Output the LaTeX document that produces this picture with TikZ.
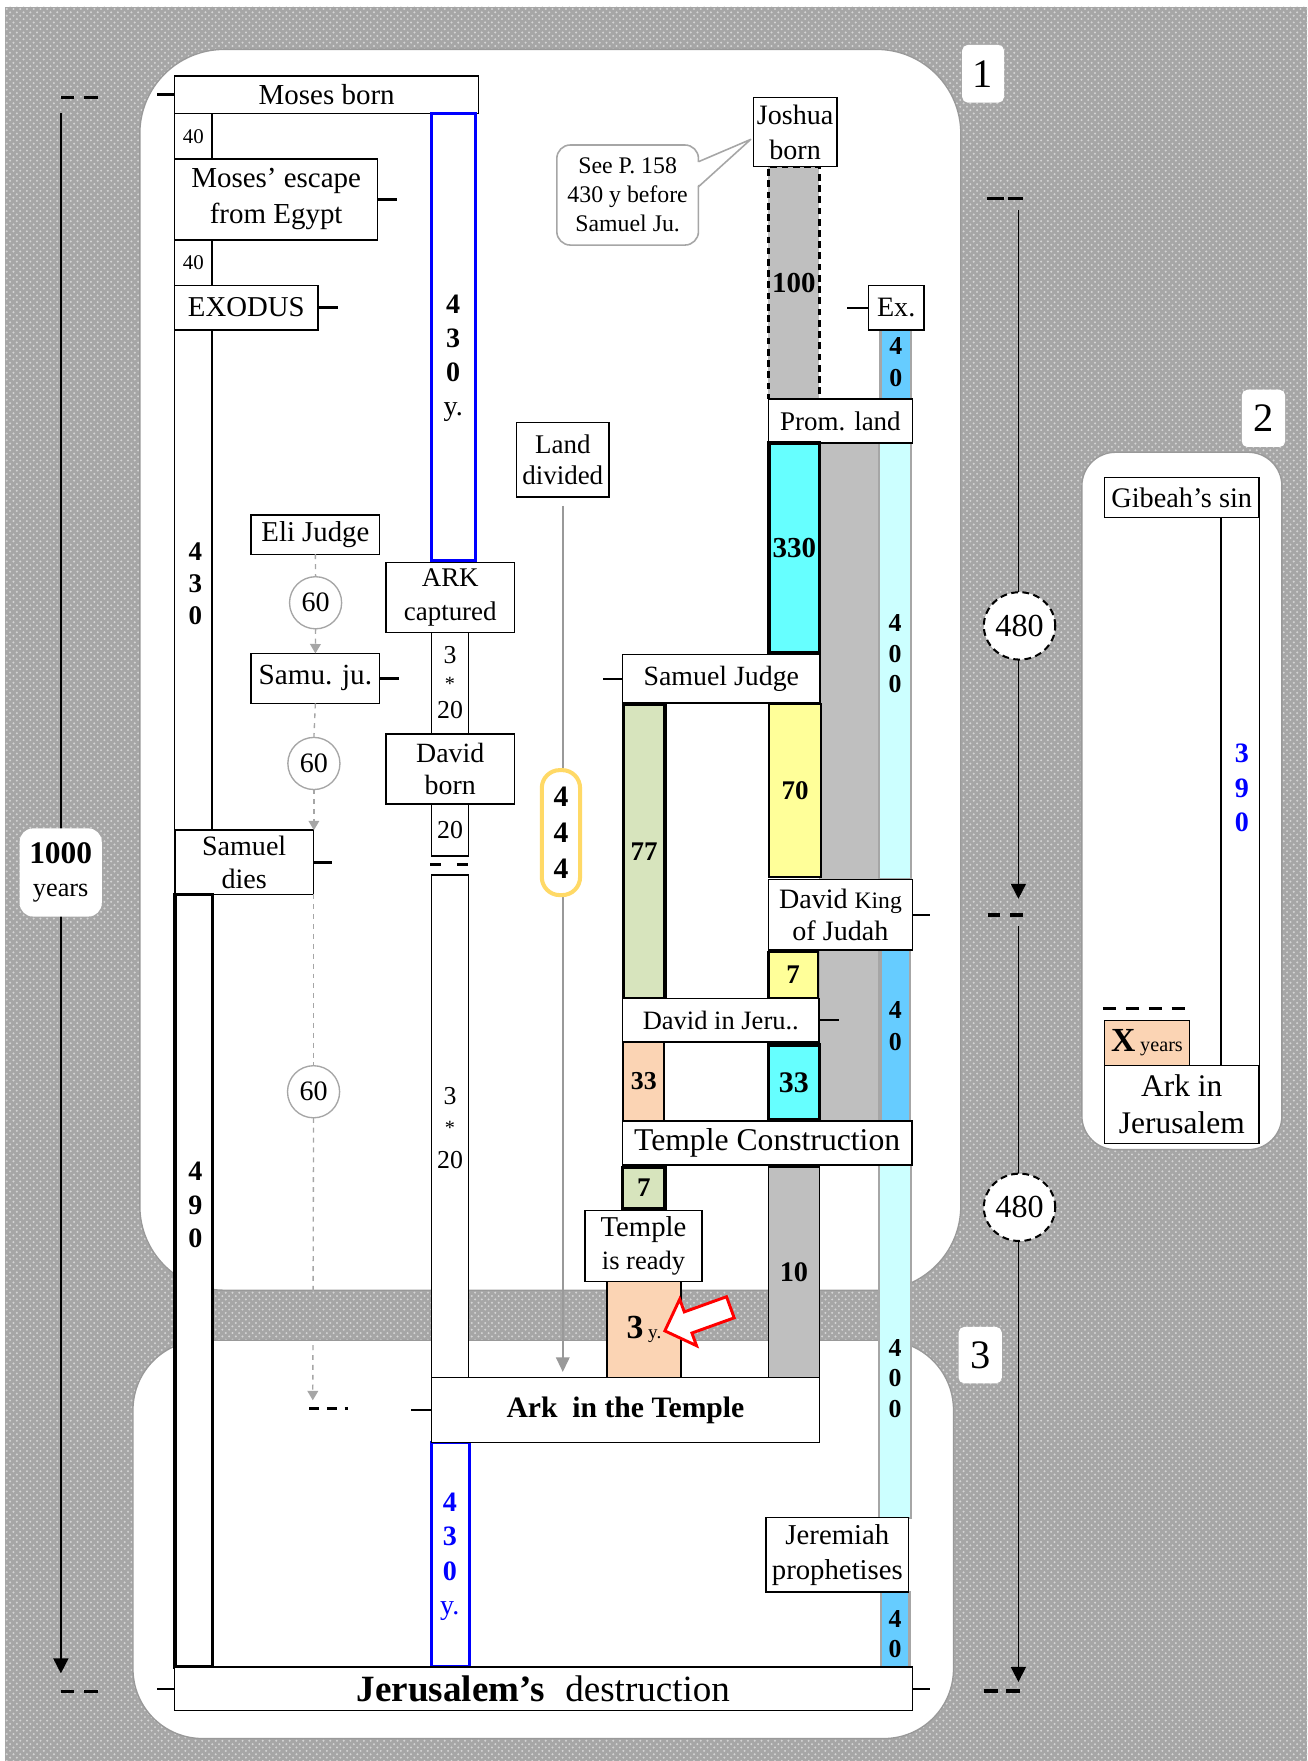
\documentclass[tikz,border=0pt]{standalone}
\usepackage{fontspec}
\setmainfont{Liberation Serif}
\usetikzlibrary{arrows.meta,shapes.geometric,patterns}
\definecolor{cBg}{HTML}{A6A6A6}
\definecolor{cDot}{HTML}{D4D4D4}
\definecolor{cBar}{HTML}{BFBFBF}
\definecolor{cCy}{HTML}{66FFFF}
\definecolor{cLc}{HTML}{CCFFFF}
\definecolor{cSky}{HTML}{66CCFF}
\definecolor{cYel}{HTML}{FFFF99}
\definecolor{cGrn}{HTML}{D7E4BD}
\definecolor{cPch}{HTML}{FBD4B4}
\definecolor{cGold}{HTML}{FFD966}
\definecolor{cLg}{HTML}{A6A6A6}
\definecolor{cLand}{HTML}{999999}
\newcommand\fz[2]{\fontsize{#1}{#2}\selectfont}
\newcommand\bx[7]{%
  \pgfmathsetmacro\bxw{(#4-#2)*0.5}%
  \pgfmathsetmacro\bxh{(#5-#3)*0.5}%
  \node[#6, minimum width=\bxw pt, minimum height=\bxh pt] (#1) at ({(#2+#4)/2},{(#3+#5)/2}) {#7};%
}
\tikzset{
  mybox/.style={draw=black, fill=white, line width=0.65pt, align=center, font=\fz{12.8}{15}},
  mybar/.style={draw=black, fill=white, line width=0.65pt, align=center, font=\fz{12.5}{15}\bfseries},
  mytbar/.style={draw=black, fill=white, line width=1.6pt, align=center, font=\fz{12.5}{15}\bfseries},
  mygbar/.style={draw=cLg, line width=1pt},
  mytk/.style={line width=1.1pt},
  mydsh/.style={line width=1.4pt},
  myscl/.style={line width=0.75pt, -{Triangle[length=6.7pt,width=6.7pt]}},
  mygd/.style={draw=cLg, line width=0.6pt, dash pattern=on 2.2pt off 2.2pt},
  mygarr/.style={-{Triangle[length=4.2pt,width=4.8pt]}},
  myland/.style={draw=cLand, line width=0.8pt, -{Triangle[length=6.5pt,width=6pt]}},
  mytag/.style={fill=white, rounded corners=2.5pt, font=\fz{18}{20}},
  mycirc/.style={circle, draw=cLg, fill=white, line width=0.6pt, minimum size=23.2pt, font=\fz{12.5}{14}},
  myell/.style={ellipse, draw=black, fill=white, line width=0.9pt, dash pattern=on 3pt off 2pt, minimum width=31.8pt, minimum height=30pt, font=\fz{14.3}{16}},
  mystack/.style={align=center, font=\fz{11.5}{13.5}\bfseries},
}
\begin{document}
\begin{tikzpicture}[x=0.5pt,y=-0.5pt, every node/.style={inner sep=0pt, outer sep=0pt}]
\useasboundingbox (0,0) rectangle (1164,1568);
% background
\fill[white] (0,0) rectangle (1164,1568);
\fill[cBg] (4.5,6) rectangle (1164,1568);
\fill[pattern=crosshatch dots, pattern color=cDot] (4.5,6) rectangle (1164,1568);
% panels
\draw[black!40, fill=white, line width=0.6pt, rounded corners=37.5pt] (124.5,44) rectangle (855.5,1148.8);
\draw[black!40, fill=white, line width=0.6pt, rounded corners=31pt] (118.4,1193.4) rectangle (849,1548);
\draw[black!40, fill=white, line width=0.6pt, rounded corners=15pt] (963.3,402.7) rectangle (1141.4,1023.6);
% tags
\bx{tagA}{856.7}{40}{894}{91.4}{mytag}{1}
\bx{tagB}{1105.7}{347}{1144.3}{398}{mytag}{2}
\bx{tagC}{853.5}{1181.5}{892}{1231.7}{mytag}{3}
% left scale
\coordinate (lsA) at (54.2,101);
\coordinate (lsB) at (54.2,1490);
\draw[myscl] (lsA) -- (lsB);
\draw[mydsh] (54.3,87) -- (66,87) (75,87) -- (87,87);
\draw[mydsh] (54.3,1506) -- (65.9,1506) (75.1,1506) -- (87,1506);
\bx{kyr}{17.5}{737.6}{90.6}{816.1}{fill=white, rounded corners=6pt, align=center, font=\fz{11.7}{15}}{{\fz{14}{15}\bfseries 1000}\\years}
% right scale
\coordinate (rsA) at (906.8,187);
\coordinate (rsB) at (906.8,800.3);
\coordinate (rsC) at (906.8,824.2);
\coordinate (rsD) at (906.8,1497.6);
\draw[myscl] (rsA) -- (rsB);
\draw[myscl] (rsC) -- (rsD);
\draw[mydsh] (878.8,176.5) -- (893.7,176.5) (897.7,176.5) -- (910.6,176.5);
\draw[mydsh] (879.6,814.7) -- (890.6,814.7) (899.5,814.7) -- (911.3,814.7);
\draw[mydsh] (875.7,1505.6) -- (889,1505.6) (895.6,1505.6) -- (908.4,1505.6);
\node[myell] (eA) at (907.8,557.3) {480};
\node[myell] (eB) at (907.8,1075) {480};
% right column bars
\bx{gbig}{729.6}{394.4}{782.8}{998.3}{fill=cBar, draw=cLg, line width=0.6pt}{}
\bx{lcA}{782.8}{394.4}{811.3}{783}{fill=cLc, mygbar}{}
\bx{skA}{784}{293.9}{811.3}{355.4}{fill=cSky, mygbar}{}
\bx{skB}{784.3}{846}{810.4}{998.3}{fill=cSky, mygbar}{}
\bx{lcB}{782.8}{1037.5}{811.3}{1351.3}{fill=cLc, mygbar}{}
\bx{skC}{784.3}{1417.5}{809.8}{1484.3}{fill=cSky, mygbar}{}
% left column
\bx{fortyA}{155.6}{101.2}{188.6}{141.4}{mybox, font=\fz{9.3}{11}}{40}
\bx{fortyB}{155.6}{213.7}{188.6}{254}{mybox, font=\fz{9.3}{11}}{40}
\bx{colA}{155.6}{293.8}{188.6}{739.2}{mybox}{}
\bx{moses}{155.6}{67.5}{426.2}{101.2}{mybox, font=\fz{12.9}{15}}{Moses born}
\bx{escape}{155.6}{141.4}{336.2}{213.7}{mybox, font=\fz{12.9}{16}}{Moses’ escape\\from Egypt}
\bx{exodus}{155.6}{254}{283}{293.8}{mybox}{EXODUS}
\bx{samdies}{155.8}{739.2}{279}{796.4}{mybox, font=\fz{12.5}{14.5}}{Samuel\\dies}
\bx{colB}{155.8}{796.4}{189.2}{1484.3}{mybox, line width=1.7pt}{}
% blue bars
\bx{bluA}{384.2}{101.2}{423.6}{499}{draw=blue, fill=white, line width=1.4pt}{}
\bx{bluB}{384.2}{1284.4}{418.2}{1483.4}{draw=blue, fill=white, line width=1.2pt}{}
% middle column
\bx{eli}{223.5}{458.4}{338.1}{493.5}{mybox}{Eli Judge}
\bx{samu}{223.5}{581.8}{338.1}{626.3}{mybox, font=\fz{13}{15}}{Samu. ju.}
\bx{ark}{343.8}{500.7}{458}{563.4}{mybox, font=\fz{12}{15}}{ARK\\captured}
\bx{twA}{384.4}{563.4}{417}{653.7}{mybox}{}
\bx{davb}{343.8}{653.7}{458}{716}{mybox, font=\fz{12.4}{14.5}}{David\\born}
\bx{twB}{384.4}{716}{417}{762.3}{mybox, font=\fz{11.5}{13}}{20}
\bx{twC}{384.4}{779.2}{417}{1226.6}{mybox}{}
\draw[mydsh] (383,769.7) -- (392.6,769.7) (406.7,769.7) -- (417,769.7);
\bx{land}{459.9}{376}{542.3}{442.4}{mybox, font=\fz{12}{14}}{Land\\divided}
% right structure
\bx{joshua}{670.9}{86.7}{745.1}{148.4}{mybox, font=\fz{12.5}{15.5}}{Joshua\\born}
\bx{dgbar}{684.2}{148.4}{729.6}{355.4}{draw=black, fill=cBar, line width=1pt, dash pattern=on 3pt off 2pt, font=\fz{12.9}{15}\bfseries}{100}
\bx{ex}{773.3}{254.2}{822.6}{293.9}{mybox, font=\fz{12.5}{15}}{Ex.}
\bx{prom}{684.2}{355.4}{812.4}{394.4}{mybox, font=\fz{12}{14}}{Prom. land}
\bx{cyA}{684.8}{394.4}{729.6}{581.4}{mytbar, fill=cCy, font=\fz{12.9}{15}\bfseries}{330}
\bx{yel70}{684.8}{627}{731.2}{780.8}{mybar, fill=cYel, font=\fz{12}{14}\bfseries}{70}
\bx{grn77}{555}{627}{592.2}{889}{mytbar, fill=cGrn, font=\fz{12}{14}\bfseries}{77}
\bx{samj}{554.2}{583}{730.3}{626}{mybox, font=\fz{12.4}{14}}{Samuel Judge}
\bx{davk}{684.2}{783}{812.4}{846}{mybox, font=\fz{12.5}{14.5}}{David {\fz{10.5}{12}King}\\of Judah}
\bx{yel7}{684.2}{847.5}{728.2}{889}{mybar, fill=cYel, line width=1pt, font=\fz{12}{14}\bfseries}{7}
\bx{djeru}{554.2}{889}{729.4}{927.7}{mybox, font=\fz{11.8}{14}}{David in Jeru..}
\bx{pchA}{555}{927.7}{591.6}{998.3}{mybar, fill=cPch, line width=0.9pt, font=\fz{11.5}{13}\bfseries}{33}
\bx{cyB}{684.2}{930.6}{729.6}{997.4}{mytbar, fill=cCy, font=\fz{13.3}{15}\bfseries}{33}
\bx{tcon}{554.2}{998.3}{811.9}{1037.5}{mybox, font=\fz{14.1}{16}}{Temple Construction}
\bx{grn7}{554.2}{1039.6}{592.2}{1076}{mytbar, fill=cGrn, font=\fz{12}{14}\bfseries}{7}
\bx{gray10}{684.2}{1039}{729.6}{1226.6}{mybar, fill=cBar, font=\fz{12.6}{14}\bfseries}{10}
\bx{tready}{521}{1077.6}{624.9}{1140.8}{mybox, font=\fz{12.8}{15}}{Temple\\{\fz{11.8}{15}is ready}}
\bx{pchB}{540.3}{1140.8}{606.5}{1226.6}{mybar, fill=cPch}{{\fz{15}{17}\bfseries 3}\,{\fz{8.5}{10}\mdseries y.}}
\bx{arkt}{384.2}{1226.6}{729.6}{1284.4}{mybox, font=\fz{13.2}{15}\bfseries}{Ark\ \ in the Temple}
\bx{jerem}{682.2}{1351.3}{809}{1417.5}{mybox, font=\fz{12.8}{15.5}}{Jeremiah\\prophetises}
\bx{jeru}{155.2}{1484.3}{812.5}{1523}{mybox, font=\fz{16.5}{18}}{\textbf{Jerusalem’s}\hspace{5pt} destruction}
% panel 2
\bx{gib}{983.2}{425.3}{1121.2}{461}{mybox, font=\fz{12.6}{14}}{Gibeah’s sin}
\bx{gcol}{1087}{461}{1121.3}{948.6}{mybox}{}
\bx{xyrs}{983.4}{908.7}{1059.1}{948.6}{mybox, fill=cPch}{{\fz{15}{17}\bfseries X}\,{\fz{9}{10}years}}
\bx{arkj}{983.4}{948.6}{1121.2}{1018.4}{mybox, font=\fz{14}{16.5}}{Ark in\\Jerusalem}
\draw[line width=1.4pt, dash pattern=on 6pt off 4.2pt] (982,898.1) -- (1055.3,898.1);
\node[mystack, text=blue, font=\fz{12.5}{15.25}\bfseries] (s390) at (1105.8,701.5) {3\\9\\0};
% circles and dashed connectors
\node[mycirc] (cA) at (281,536.7) {60};
\node[mycirc] (cB) at (279.5,679.8) {60};
\node[mycirc] (cC) at (279.2,972.1) {60};
\coordinate (sdEnd) at (278.5,1246.8);
\draw[mygd] (eli.south) -- (cA.north);
\draw[mygd, mygarr] (cA.south) -- (samu.north);
\draw[mygd] (samu.south) -- (cB.north);
\draw[mygd, mygarr] (cB.south) -- (cB.south |- samdies.north);
\draw[mygd] (cC.north |- samdies.south) -- (cC.north);
\draw[mygd, mygarr] (cC.south) -- (sdEnd);
\draw[mydsh, dash pattern=on 4.5pt off 3.4pt] (275.2,1254) -- (310.1,1254);
% land divided arrow
\coordinate (landEnd) at (land.south |- arkt.north);
\draw[myland] ([yshift=-4pt]land.south) -- ([yshift=2.5pt]landEnd);
\bx{b444}{482.4}{685.7}{516.5}{797}{draw=cGold, fill=white, line width=1.8pt, rounded corners=8pt, align=center, font=\fz{13.2}{16}\bfseries}{4\\4\\4}
% callout
\bx{call}{495.8}{129.1}{621.9}{218.2}{draw=cLg, fill=white, line width=0.7pt, rounded corners=6pt, align=center, font=\fz{10.6}{13}}{See P. 158\\430 y before\\Samuel Ju.}
\coordinate (ctip) at (668.5,124.1);
\coordinate (cpa) at (621.9,144);
\coordinate (cpb) at (621.9,166.3);
\fill[white] (620.6,144.6) -- (ctip) -- (620.6,165.7) -- cycle;
\draw[cLg, line width=0.7pt, line join=round] (cpa) -- (ctip) -- (cpb);
% ticks
\draw[mytk] (moses.west) -- ++(-16.2,0);
\draw[mytk] (escape.east) -- ++(17,0);
\draw[mytk] (exodus.east) -- ++(18,0);
\draw[mytk] (samu.east) -- ++(17,0);
\draw[mytk] (samdies.east) -- ++(16.3,0);
\draw[mytk] (samj.west) -- ++(-17,0);
\draw[mytk] (ex.west) -- ++(-19.3,0);
\draw[mytk] (davk.east) -- ++(15.6,0);
\draw[mytk] (djeru.east) -- ++(17.2,0);
\draw[mytk] (arkt.west) -- ++(-18.4,0);
\draw[mytk] (jeru.west) -- ++(-15.3,0);
\draw[mytk] (jeru.east) -- ++(15.8,0);
% digit stacks
\node[mystack, font=\fz{12}{14.25}\bfseries] (s430a) at (174,519.5) {4\\3\\0};
\node[mystack, font=\fz{12.5}{15.2}\bfseries] (s430b) at (403.5,319) {4\\3\\0\\{\mdseries y.}};
\node[mystack, font=\fz{12.5}{15}\bfseries] (s490) at (174,1073) {4\\9\\0};
\node[mystack, text=blue, font=\fz{12.5}{15.3}\bfseries] (s430c) at (400.5,1386) {4\\3\\0\\{\mdseries y.}};
\node[mystack] (s400a) at (797,582) {4\\0\\0};
\node[mystack, font=\fz{11.5}{14}\bfseries] (s40a) at (797.6,322.5) {4\\0};
\node[mystack, font=\fz{11.5}{14}\bfseries] (s40b) at (797.3,913.6) {4\\0};
\node[mystack] (s400b) at (797,1227.5) {4\\0\\0};
\node[mystack, font=\fz{11.5}{13.5}\bfseries] (s40c) at (797,1455) {4\\0};
\node[font=\fz{11.5}{13}] (ta3) at (400.7,583) {3};
\node[font=\fz{9}{10}] (tas) at (400.7,609) {*};
\node[font=\fz{11.5}{13}] (ta20) at (400.7,632) {20};
\node[font=\fz{11.5}{13}] (tb3) at (400.7,976) {3};
\node[font=\fz{9}{10}] (tbs) at (400.7,1004) {*};
\node[font=\fz{11.5}{13}] (tb20) at (400.7,1033) {20};
% red arrow
\draw[red, line width=1.3pt, fill=white, line join=miter] (592,1185) -- (620.2,1198.2) -- (616.1,1186.9) -- (653.7,1173.4) -- (646.9,1154.6) -- (609.3,1168.1) -- (605.2,1156.8) -- cycle;
\end{tikzpicture}
\end{document}
